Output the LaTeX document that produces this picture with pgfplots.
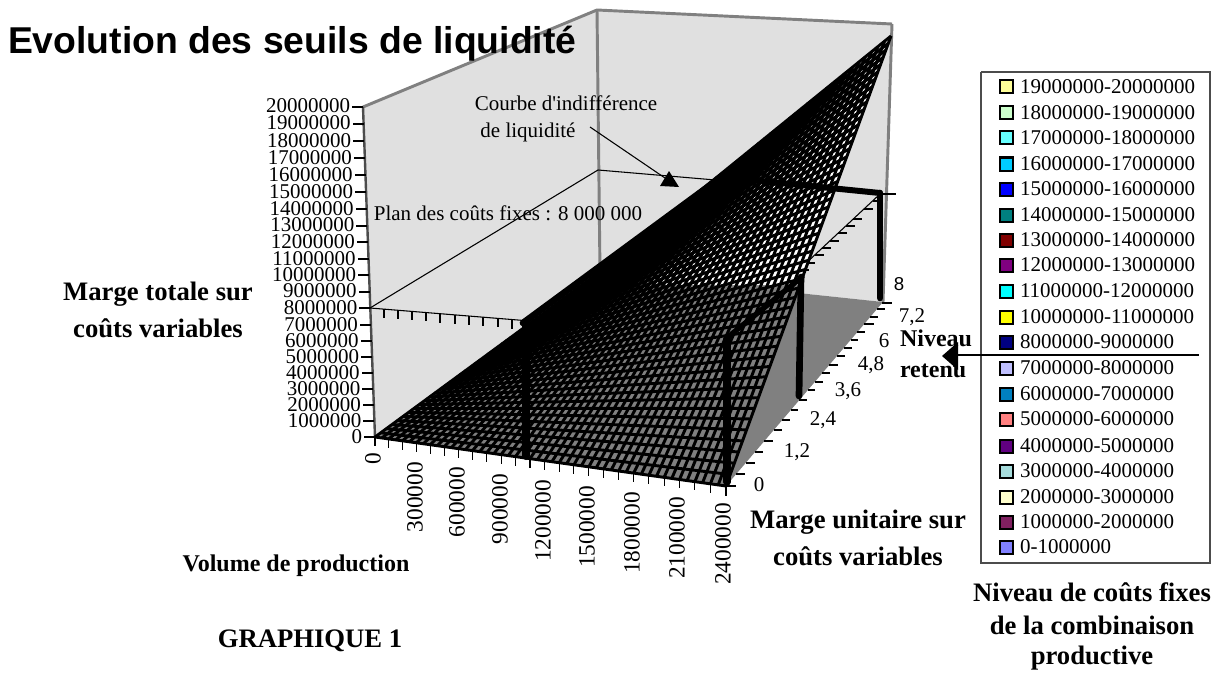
\documentclass[border=0pt]{standalone}
\usepackage{fontspec}
\usepackage{pgfplots}
\pgfplotsset{compat=1.18}
\setmainfont{Liberation Serif}
\newfontfamily\arialf{Liberation Sans}
\newcommand{\lab}{\fontsize{15.75}{18}\selectfont}
\newcommand{\rlab}{\fontsize{17.5}{20}\selectfont}
\newcommand{\blab}{\fontsize{20}{23}\selectfont\bfseries}
\newcommand{\blabs}{\fontsize{18}{21}\selectfont\bfseries}
\tikzset{every node/.style={inner sep=0pt, outer sep=0pt}}
\begin{document}
\begin{tikzpicture}
\begin{axis}[
  at={(0,0)}, anchor=south west, scale only axis,
  width=916.5pt, height=505.5pt,
  xmin=0, xmax=1222, ymin=0, ymax=674, y dir=reverse,
  hide axis, clip=false, no markers, unbounded coords=jump,
]
% background
\addplot[fill=white, draw=none] coordinates {(0,0)(1222,0)(1222,674)(0,674)} -- cycle;
% walls
\addplot[fill=black!12, draw=none] coordinates {(363,107)(597,10)(600,272)(375,437)} -- cycle;
\addplot[fill=black!12, draw=none] coordinates {(597,10)(892,24)(883,302)(600,272)} -- cycle;
% floor
\addplot[fill=black!50, draw=none] coordinates {(375,437)(726,486)(883,302)(600,272)} -- cycle;
% wall edges
\addplot[color=black!50, line width=2.2pt] coordinates {(363,107)(597,10)(892,24)};
\addplot[color=black!50, line width=2.2pt] coordinates {(597,10)(600,272)};
\addplot[color=black!50, line width=2.2pt] coordinates {(892,24)(883,302)};
\addplot[color=black!70, line width=1.8pt] coordinates {(363,107)(375,437)};
% plane of fixed costs 8 000 000
\addplot[black, line width=0.8pt] coordinates {(370,308)(598,170)(880,194)};
\addplot[black, line width=0.8pt] coordinates {(370,308)(727,337)};
\addplot[black, line width=0.8pt] coordinates {(880,194)(727,337)};
\addplot[black, line width=0.8pt] coordinates {
(384,309)(384,318) (nan,nan) (398,310)(398,319) (nan,nan) (412,311)(412,320) (nan,nan)
(426,312)(426,321) (nan,nan) (440,314)(440,323) (nan,nan) (455,315)(455,324) (nan,nan)
(469,316)(469,325) (nan,nan) (483,317)(483,326) (nan,nan) (498,318)(498,327) (nan,nan)
(512,320)(512,329)};
\addplot[black, line width=0.8pt] coordinates {
(880,194)(896,194) (nan,nan) (872.5,201)(882,201) (nan,nan) (864,209)(873,209) (nan,nan)
(853,219)(862,219) (nan,nan) (846,226)(855,226) (nan,nan) (838,233)(847,233) (nan,nan)
(830,241)(839,241) (nan,nan) (822,248)(831,248) (nan,nan) (815,255)(824,255) (nan,nan)
(806,263)(815,263) (nan,nan) (799,270)(809,270) (nan,nan) (790,278)(800,278)};
% surface base colours
\addplot[fill=black!50, draw=none] coordinates {(375,437)(726,486)(891,36)(600,272)} -- cycle;
\addplot[fill=white, draw=none] coordinates {(582,285)(600,272)(891,36)(799.6,285)} -- cycle;
% mesh: lines of constant volume (step 50000)
\addplot[black, line width=2.2pt] coordinates {
(375,437)(600,272)(nan,nan)
(381.8,438.0)(605.7,267.4)(nan,nan)
(388.7,438.9)(611.3,262.8)(nan,nan)
(395.6,439.9)(617.1,258.1)(nan,nan)
(402.5,440.8)(622.8,253.5)(nan,nan)
(409.4,441.8)(628.5,248.9)(nan,nan)
(416.3,442.8)(634.3,244.2)(nan,nan)
(423.3,443.7)(640.0,239.5)(nan,nan)
(430.3,444.7)(645.8,234.8)(nan,nan)
(437.3,445.7)(651.6,230.1)(nan,nan)
(444.3,446.7)(657.4,225.4)(nan,nan)
(451.3,447.7)(663.3,220.7)(nan,nan)
(458.4,448.6)(669.1,216.0)(nan,nan)
(465.5,449.6)(675.0,211.2)(nan,nan)
(472.5,450.6)(680.9,206.4)(nan,nan)
(479.7,451.6)(686.8,201.6)(nan,nan)
(486.8,452.6)(692.7,196.8)(nan,nan)
(493.9,453.6)(698.6,192.0)(nan,nan)
(501.1,454.6)(704.6,187.2)(nan,nan)
(508.3,455.6)(710.5,182.4)(nan,nan)
(515.5,456.6)(716.5,177.5)(nan,nan)
(522.7,457.6)(722.5,172.7)(nan,nan)
(530.0,458.6)(728.5,167.8)(nan,nan)
(537.3,459.7)(734.5,162.9)(nan,nan)
(544.6,460.7)(740.6,158.0)(nan,nan)
(551.9,461.7)(746.6,153.1)(nan,nan)
(559.2,462.7)(752.7,148.1)(nan,nan)
(566.6,463.7)(758.8,143.2)(nan,nan)
(573.9,464.8)(764.9,138.2)(nan,nan)
(581.4,465.8)(771.1,133.3)(nan,nan)
(588.8,466.8)(777.2,128.3)(nan,nan)
(596.2,467.9)(783.4,123.3)(nan,nan)
(603.7,468.9)(789.6,118.2)(nan,nan)
(611.2,470.0)(795.8,113.2)(nan,nan)
(618.7,471.0)(802.0,108.2)(nan,nan)
(626.2,472.1)(808.2,103.1)(nan,nan)
(633.7,473.1)(814.5,98.0)(nan,nan)
(641.3,474.2)(820.8,93.0)(nan,nan)
(648.9,475.2)(827.1,87.8)(nan,nan)
(656.5,476.3)(833.4,82.7)(nan,nan)
(664.1,477.4)(839.7,77.6)(nan,nan)
(671.8,478.4)(846.0,72.5)(nan,nan)
(679.5,479.5)(852.4,67.3)(nan,nan)
(687.1,480.6)(858.8,62.1)(nan,nan)
(694.9,481.7)(865.2,56.9)(nan,nan)
(702.6,482.7)(871.6,51.7)(nan,nan)
(710.4,483.8)(878.0,46.5)(nan,nan)
(718.2,484.9)(884.5,41.3)(nan,nan)
(726,486)(891,36)
};
% mesh: lines of constant unit margin
\addplot[black, line width=2.2pt] coordinates {
(375,437)(726,486)(nan,nan)
(380.7,432.8)(730.2,474.5)(nan,nan)
(386.4,428.6)(734.4,463.2)(nan,nan)
(392.0,424.5)(738.5,452.0)(nan,nan)
(397.6,420.5)(742.5,440.9)(nan,nan)
(403.1,416.4)(746.6,429.9)(nan,nan)
(408.5,412.4)(750.6,419.0)(nan,nan)
(413.9,408.5)(754.5,408.3)(nan,nan)
(419.2,404.6)(758.4,397.7)(nan,nan)
(424.4,400.8)(762.2,387.2)(nan,nan)
(429.6,397.0)(766.0,376.8)(nan,nan)
(434.8,393.2)(769.8,366.5)(nan,nan)
(439.8,389.4)(773.6,356.3)(nan,nan)
(444.9,385.8)(777.2,346.2)(nan,nan)
(449.9,382.1)(780.9,336.3)(nan,nan)
(454.8,378.5)(784.5,326.4)(nan,nan)
(459.7,374.9)(788.1,316.7)(nan,nan)
(464.5,371.4)(791.6,307.0)(nan,nan)
(469.3,367.9)(795.1,297.4)(nan,nan)
(474.0,364.4)(798.6,288.0)(nan,nan)
(478.7,361.0)(802.0,278.6)(nan,nan)
(483.3,357.6)(805.4,269.4)(nan,nan)
(487.9,354.2)(808.8,260.2)(nan,nan)
(492.5,350.9)(812.1,251.1)(nan,nan)
(497.0,347.6)(815.4,242.1)(nan,nan)
(501.4,344.3)(818.7,233.2)(nan,nan)
(505.8,341.1)(821.9,224.4)(nan,nan)
(510.2,337.9)(825.1,215.6)(nan,nan)
(514.5,334.7)(828.3,207.0)(nan,nan)
(518.8,331.6)(831.4,198.4)(nan,nan)
(523.0,328.4)(834.6,190.0)(nan,nan)
(527.2,325.4)(837.6,181.5)(nan,nan)
(531.4,322.3)(840.7,173.3)(nan,nan)
(535.5,319.3)(843.7,165.0)(nan,nan)
(539.6,316.3)(846.7,156.8)(nan,nan)
(543.6,313.3)(849.7,148.7)(nan,nan)
(547.6,310.4)(852.6,140.7)(nan,nan)
(551.6,307.5)(855.5,132.8)(nan,nan)
(555.5,304.6)(858.4,124.9)(nan,nan)
(559.4,301.8)(861.3,117.1)(nan,nan)
(563.3,298.9)(864.1,109.4)(nan,nan)
(567.1,296.1)(866.9,101.8)(nan,nan)
(570.9,293.4)(869.6,94.2)(nan,nan)
(574.6,290.6)(872.4,86.7)(nan,nan)
(578.4,287.9)(875.1,79.2)(nan,nan)
(582.0,285.2)(877.8,71.9)(nan,nan)
(585.7,282.5)(880.5,64.6)(nan,nan)
(589.3,279.8)(883.2,57.3)(nan,nan)
(592.9,277.2)(885.8,50.2)(nan,nan)
(596.5,274.6)(888.4,43.1)(nan,nan)
(600,272)(891,36)
};
% axis ticks: volume
\addplot[black, line width=0.8pt] coordinates {
(375,437)(375,446)(nan,nan)(388.7,438.9)(388.7,448)(nan,nan)(402.5,440.8)(402.5,450)(nan,nan)
(416.3,442.8)(416.3,452)(nan,nan)(430.3,444.7)(430.3,454)(nan,nan)(444.3,446.7)(444.3,456)(nan,nan)
(458.4,448.6)(458.4,458)(nan,nan)(472.5,450.6)(472.5,460)(nan,nan)(486.8,452.6)(486.8,462)(nan,nan)
(501.1,454.6)(501.1,464)(nan,nan)(515.5,456.6)(515.5,466)(nan,nan)(530.0,458.6)(530.0,468)(nan,nan)
(544.6,460.7)(544.6,470)(nan,nan)(559.2,462.7)(559.2,472)(nan,nan)(573.9,464.8)(573.9,474)(nan,nan)
(588.8,466.8)(588.8,476)(nan,nan)(603.7,468.9)(603.7,478)(nan,nan)(618.7,471.0)(618.7,480)(nan,nan)
(633.7,473.1)(633.7,482)(nan,nan)(648.9,475.2)(648.9,484)(nan,nan)(664.1,477.4)(664.1,486)(nan,nan)
(679.5,479.5)(679.5,488)(nan,nan)(694.9,481.7)(694.9,490)(nan,nan)(710.4,483.8)(710.4,493)(nan,nan)
(726,486)(726,496)};
% axis ticks: unit margin
\addplot[black, line width=0.8pt] coordinates {
(882,303)(892,303)(nan,nan)(877,309)(885,309)(nan,nan)(870,317)(878,317)(nan,nan)(864,324)(874,324)(nan,nan)
(857,332)(865,332)(nan,nan)(851,340)(858,340)(nan,nan)(844,348)(852,348)(nan,nan)(837,356)(845,356)(nan,nan)
(829,365)(838,365)(nan,nan)(822,373)(830,373)(nan,nan)(815,382)(823,382)(nan,nan)(808,390)(815,390)(nan,nan)
(799,400)(807,400)(nan,nan)(791,410)(798,410)(nan,nan)(782,420)(790,420)(nan,nan)(774,430)(782,430)(nan,nan)
(764,441)(773,441)(nan,nan)(755,452)(763,452)(nan,nan)(746,463)(755,463)(nan,nan)(736,474)(745,474)(nan,nan)
(726,486)(736,486)};
% axis ticks: total margin
\addplot[black, line width=0.8pt] coordinates {
(363,107)(352,107)(nan,nan)(363.6,124)(352.6,124)(nan,nan)(364.2,141)(353.2,141)(nan,nan)(364.9,158)(353.9,158)(nan,nan)
(365.5,175)(354.5,175)(nan,nan)(366.1,192)(355.1,192)(nan,nan)(366.7,209)(355.7,209)(nan,nan)(367.3,226)(356.3,226)(nan,nan)
(367.9,242)(356.9,242)(nan,nan)(368.5,259)(357.5,259)(nan,nan)(369.1,275)(358.1,275)(nan,nan)(369.7,292)(358.7,292)(nan,nan)
(370.3,308)(359.3,308)(nan,nan)(370.9,325)(359.9,325)(nan,nan)(371.5,341)(360.5,341)(nan,nan)(372.1,357)(361.1,357)(nan,nan)
(372.7,373)(361.7,373)(nan,nan)(373.3,389)(362.3,389)(nan,nan)(373.8,405)(362.8,405)(nan,nan)(374.4,421)(363.4,421)(nan,nan)
(375,437)(364,437)};
% hand-drawn thick lines
\addplot[black, line width=6pt, line cap=round] coordinates {(526,325)(526,456)};
\addplot[black, line width=5pt, line cap=round] coordinates {(523,323)(720,178)};
\addplot[black, line width=4.5pt, line cap=round] coordinates {(720,177)(880,193)};
\addplot[black, line width=5pt, line cap=round] coordinates {(880,193)(880,298)};
\addplot[black, line width=5.5pt, line cap=round] coordinates {(727,339)(727,482)};
\addplot[black, line width=4pt, line cap=round] coordinates {(728,337)(802,277)};
\addplot[black, line width=5pt, line cap=round] coordinates {(801,277)(799,396)};
% annotation arrows
\addplot[black, line width=0.8pt] coordinates {(590,127)(665,178)};
\addplot[fill=black, draw=none] coordinates {(669,171)(660,186)(679,187)} -- cycle;
% legend box
\addplot[fill=white, draw=none] coordinates {(981,72)(1210,72)(1210,563)(981,563)} -- cycle;
\addplot[color=black!70, line width=0.9pt] coordinates {(981,72)(1210,72)(1210,563)(981,563)(981,72)};
\addplot[black, line width=0.8pt] coordinates {(950,355)(1199,355)};
\addplot[fill=black, draw=none] coordinates {(942,356)(958,342)(958,370)} -- cycle;
% legend keys
\definecolor{k19}{HTML}{FFFF99}\definecolor{k18}{HTML}{CCFFCC}\definecolor{k17}{HTML}{66FFFF}
\definecolor{k16}{HTML}{00CCFF}\definecolor{k15}{HTML}{0000FF}\definecolor{k14}{HTML}{008080}
\definecolor{k13}{HTML}{800000}\definecolor{k12}{HTML}{800080}\definecolor{k11}{HTML}{00FFFF}
\definecolor{k10}{HTML}{FFFF00}\definecolor{k8}{HTML}{000080}\definecolor{k7}{HTML}{C0C0FF}
\definecolor{k6}{HTML}{0080C0}\definecolor{k5}{HTML}{FF8080}\definecolor{k4}{HTML}{600080}
\definecolor{k3}{HTML}{A6DCDC}\definecolor{k2}{HTML}{FFFFCC}\definecolor{k1}{HTML}{802060}
\definecolor{k0}{HTML}{8080FF}
\pgfplotsset{lk/.style={fill=#1, draw=black, line width=1.5pt, line join=miter}}
\addplot[lk=k19] coordinates {(1000,80.5)(1013,80.5)(1013,93.5)(1000,93.5)} -- cycle;
\addplot[lk=k18] coordinates {(1000,106.5)(1013,106.5)(1013,119.5)(1000,119.5)} -- cycle;
\addplot[lk=k17] coordinates {(1000,131.5)(1013,131.5)(1013,144.5)(1000,144.5)} -- cycle;
\addplot[lk=k16] coordinates {(1000,157.5)(1013,157.5)(1013,170.5)(1000,170.5)} -- cycle;
\addplot[lk=k15] coordinates {(1000,182.5)(1013,182.5)(1013,195.5)(1000,195.5)} -- cycle;
\addplot[lk=k14] coordinates {(1000,208.5)(1013,208.5)(1013,221.5)(1000,221.5)} -- cycle;
\addplot[lk=k13] coordinates {(1000,233.5)(1013,233.5)(1013,246.5)(1000,246.5)} -- cycle;
\addplot[lk=k12] coordinates {(1000,258.5)(1013,258.5)(1013,271.5)(1000,271.5)} -- cycle;
\addplot[lk=k11] coordinates {(1000,284.5)(1013,284.5)(1013,297.5)(1000,297.5)} -- cycle;
\addplot[lk=k10] coordinates {(1000,310.5)(1013,310.5)(1013,323.5)(1000,323.5)} -- cycle;
\addplot[lk=k8] coordinates {(1000,335.5)(1013,335.5)(1013,348.5)(1000,348.5)} -- cycle;
\addplot[lk=k7] coordinates {(1000,361.5)(1013,361.5)(1013,374.5)(1000,374.5)} -- cycle;
\addplot[lk=k6] coordinates {(1000,387.5)(1013,387.5)(1013,400.5)(1000,400.5)} -- cycle;
\addplot[lk=k5] coordinates {(1000,412.5)(1013,412.5)(1013,425.5)(1000,425.5)} -- cycle;
\addplot[lk=k4] coordinates {(1000,439.5)(1013,439.5)(1013,452.5)(1000,452.5)} -- cycle;
\addplot[lk=k3] coordinates {(1000,464.5)(1013,464.5)(1013,477.5)(1000,477.5)} -- cycle;
\addplot[lk=k2] coordinates {(1000,490.5)(1013,490.5)(1013,503.5)(1000,503.5)} -- cycle;
\addplot[lk=k1] coordinates {(1000,515.5)(1013,515.5)(1013,528.5)(1000,528.5)} -- cycle;
\addplot[lk=k0] coordinates {(1000,540.5)(1013,540.5)(1013,553.5)(1000,553.5)} -- cycle;
% legend text
\foreach \y/\t in {87/19000000-20000000,113/18000000-19000000,138/17000000-18000000,164/16000000-17000000,189/15000000-16000000,215/14000000-15000000,240/13000000-14000000,265/12000000-13000000,291/11000000-12000000,317/10000000-11000000,342/8000000-9000000,368/7000000-8000000,394/6000000-7000000,419/5000000-6000000,446/4000000-5000000,471/3000000-4000000,497/2000000-3000000,522/1000000-2000000,547/0-1000000}{
  \edef\tmp{\noexpand\node[anchor=west,font=\noexpand\lab] at (axis cs:1020,\y) {\t};}\tmp
}
% z tick labels
\foreach \x/\y/\t in {350/106/20000000,350.6/123/19000000,351.2/141/18000000,351.9/158/17000000,352.5/175/16000000,353.1/192/15000000,353.7/209/14000000,354.3/225/13000000,354.9/242/12000000,355.5/259/11000000,356.1/275/10000000,356.7/291/9000000,357.3/308/8000000,357.9/325/7000000,358.5/341/6000000,359.1/357/5000000,359.7/373/4000000,360.3/389/3000000,360.8/405/2000000,361.4/421/1000000,362/437/0}{
  \edef\tmp{\noexpand\node[anchor=east,font=\noexpand\lab] at (axis cs:\x,\y) {\t};}\tmp
}
% volume tick labels
\foreach \x/\y/\t in {373/453/0,415/462/300000,457/467/600000,500/474/900000,543/480/1200000,587/486/1500000,632/492/1800000,677/497/2100000,723/503/2400000}{
  \edef\tmp{\noexpand\node[anchor=east,rotate=90,font=\noexpand\rlab] at (axis cs:\x,\y) {\t};}\tmp
}
% margin tick labels
\foreach \x/\y/\t in {759/485/0,797/452/{1,2},823/420/{2,4},848/391/{3,6},871/365/{4,8},884/341/6,912/317/{7,2}}{
  \edef\tmp{\noexpand\node[font=\noexpand\lab] at (axis cs:\x,\y) {\t};}\tmp
}
\node[font=\arialf\fontsize{14}{16}\selectfont] at (axis cs:899,284) {8};
% annotations and titles
\node[font=\arialf\fontsize{28}{32}\selectfont\bfseries, anchor=west] at (axis cs:8,44) {Evolution des seuils de liquidité};
\node[font=\lab] at (axis cs:566,103) {Courbe d\textquotesingle indifférence};
\node[font=\lab] at (axis cs:528,132) {de liquidité};
\node[font=\lab] at (axis cs:508,213) {Plan des coûts fixes : 8 000 000};
\node[font=\blab] at (axis cs:158,294) {Marge totale sur};
\node[font=\blab] at (axis cs:158,328) {coûts variables};
\node[font=\blabs] at (axis cs:296,566) {Volume de production};
\node[font=\blab] at (axis cs:310,641) {GRAPHIQUE 1};
\node[font=\blab] at (axis cs:858,522) {Marge unitaire sur};
\node[font=\blab] at (axis cs:858,556) {coûts variables};
\node[font=\blab] at (axis cs:1092,592) {Niveau de coûts fixes};
\node[font=\blab] at (axis cs:1092,625) {de la combinaison};
\node[font=\blab] at (axis cs:1092,658) {productive};
\node[font=\blabs, anchor=west] at (axis cs:900,338) {Niveau};
\node[font=\blabs, anchor=west] at (axis cs:900,371) {retenu};
\end{axis}
\end{tikzpicture}
\end{document}
